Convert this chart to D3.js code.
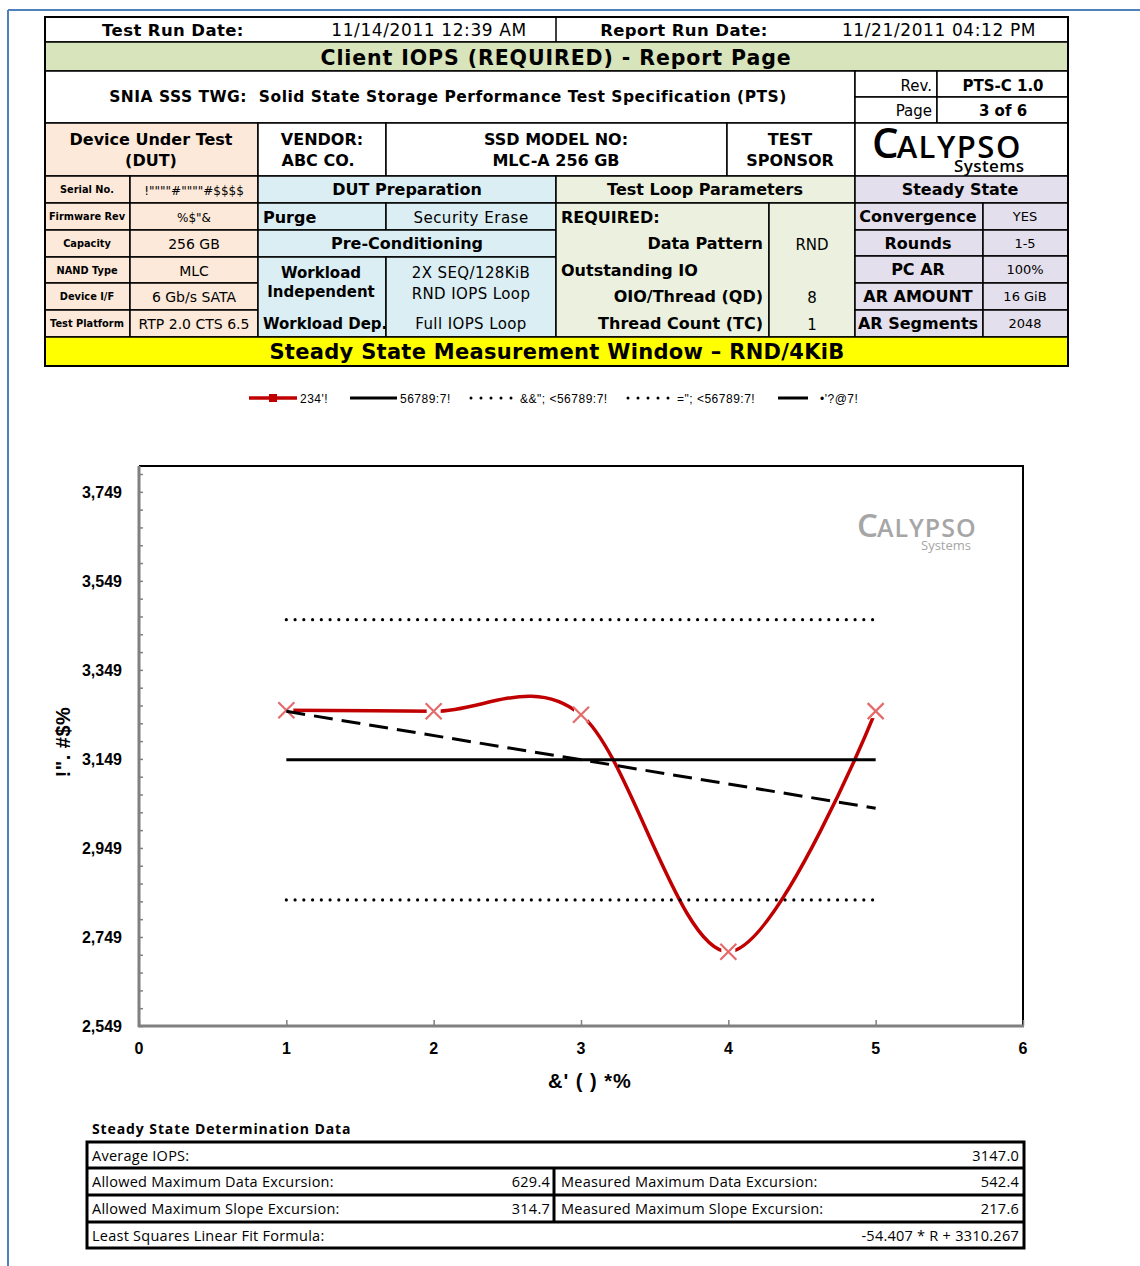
<!DOCTYPE html>
<html>
<head>
<meta charset="utf-8">
<script src="https://cdn.jsdelivr.net/npm/d3@7.9.0/dist/d3.min.js"></script>
<style>
  body { margin: 0; background: #fff; }
  svg { display: block; font-family: "DejaVu Sans", Verdana, sans-serif; }
</style>
</head>
<body>
<svg id="page" width="1140" height="1266"></svg>
<script>
// ---- data ----
const rounds = [1, 2, 3, 4, 5];
const iops = [3258.4, 3256.0, 3248.2, 2716.0, 3256.4];
const avgIops = 3147.0;
const fitSlope = -54.407, fitIntercept = 3310.267;
const xTicks = [0, 1, 2, 3, 4, 5, 6];
const yTicks = [2549, 2749, 2949, 3149, 3349, 3549, 3749];
const legendLabels = ["234'!", "56789:7!", "&&\"; <56789:7!", "=\"; <56789:7!", "•'?@7!"];

const dutLabels = ["Serial No.", "Firmware Rev", "Capacity", "NAND Type", "Device I/F", "Test Platform"];
const dutValues = ['!""""#""""#$$$$', '%$"&', "256 GB", "MLC", "6 Gb/s SATA", "RTP 2.0 CTS 6.5"];
const ssLabels = ["Convergence", "Rounds", "PC AR", "AR AMOUNT", "AR Segments"];
const ssValues = ["YES", "1-5", "100%", "16 GiB", "2048"];
const ssdRows = [
  ["Average IOPS:", "3147.0"],
  ["Allowed Maximum Data Excursion:", "629.4", "Measured Maximum Data Excursion:", "542.4"],
  ["Allowed Maximum Slope Excursion:", "314.7", "Measured Maximum Slope Excursion:", "217.6"],
  ["Least Squares Linear Fit Formula:", "-54.407 * R + 3310.267"]
];

const svg = d3.select("#page");

// page frame (blue)
svg.append("line").attr("x1", 8).attr("x2", 1140).attr("y1", 10).attr("y2", 10).attr("stroke", "#4f81bd").attr("stroke-width", 2);
svg.append("line").attr("x1", 8).attr("x2", 8).attr("y1", 10).attr("y2", 1266).attr("stroke", "#4f81bd").attr("stroke-width", 2);

// helpers
const hdr = svg.append("g");
function rect(x, y, w, h, fill) {
  hdr.append("rect").attr("x", x).attr("y", y).attr("width", w).attr("height", h)
    .attr("fill", fill || "#fff").attr("stroke", "#000").attr("stroke-width", 1.5);
}
function txt(x, y, s, size, weight, anchor, g) {
  return (g || hdr).append("text").attr("x", x).attr("y", y).text(s)
    .attr("font-size", size).attr("font-weight", weight || "normal")
    .attr("text-anchor", anchor || "middle");
}

// ---- header table ----
const L = 45, R = 1068;
rect(L, 17, R - L, 25, "#fff");
hdr.append("line").attr("x1", 556).attr("x2", 556).attr("y1", 17).attr("y2", 42).attr("stroke", "#000").attr("stroke-width", 1.5);
txt(173, 36, "Test Run Date:", 16.5, "bold").attr("letter-spacing", 0.4);
txt(429, 36, "11/14/2011 12:39 AM", 17).attr("letter-spacing", 0.6);
txt(684, 36, "Report Run Date:", 16.5, "bold").attr("letter-spacing", 0.4);
txt(939, 36, "11/21/2011 04:12 PM", 17).attr("letter-spacing", 0.6);

rect(L, 42, R - L, 29, "#d8e4bc");
txt(556, 65, "Client IOPS (REQUIRED) - Report Page", 20.5, "bold").attr("letter-spacing", 0.9);

rect(L, 71, 855 - L, 52, "#fff");
txt(448, 102, "SNIA SSS TWG:  Solid State Storage Performance Test Specification (PTS)", 15.5, "bold")
  .attr("xml:space", "preserve").attr("letter-spacing", 0.5);
rect(855, 71, 82, 26); rect(937, 71, 131, 26);
rect(855, 97, 82, 26); rect(937, 97, 131, 26);
txt(932, 91, "Rev.", 15, "normal", "end");
txt(1003, 91, "PTS-C 1.0", 15, "bold");
txt(932, 116, "Page", 15, "normal", "end");
txt(1003, 116, "3 of 6", 15, "bold");

rect(L, 123, 258 - L, 53, "#fde9d9");
txt(151, 145, "Device Under Test", 16, "bold");
txt(151, 166, "(DUT)", 16, "bold");
rect(258, 123, 128, 53);
txt(322, 145, "VENDOR:", 16, "bold");
txt(318, 166, "ABC CO.", 16, "bold");
rect(386, 123, 341, 53);
txt(556, 145, "SSD MODEL NO:", 16, "bold");
txt(556, 166, "MLC-A 256 GB", 16, "bold");
rect(727, 123, 128, 53);
txt(790, 145, "TEST", 16, "bold");
txt(790, 166, "SPONSOR", 16, "bold");
rect(855, 123, R - 855, 53);
// logo (one text element: big C, ALYPSO, and "Systems" underneath)
hdr.append("rect").attr("x", 880).attr("y", 160).attr("width", 160).attr("height", 18).attr("fill", "#fff");
const logo = hdr.append("text").attr("font-family", "'Open Sans', sans-serif").attr("font-weight", 600);
logo.append("tspan").attr("x", 872).attr("y", 158).text("C").attr("font-size", 42);
logo.append("tspan").text("ALYPSO").attr("font-size", 31).attr("dx", -2).attr("letter-spacing", 1.5);
logo.append("tspan").attr("x", 954).attr("y", 172).text("Systems").attr("font-size", 17).attr("letter-spacing", 0.4);

// DUT rows
const rowY = [176, 203, 230, 257, 283, 310, 337];
dutLabels.forEach((lab, i) => {
  const y0 = rowY[i], h = rowY[i + 1] - rowY[i];
  rect(L, y0, 85, h, "#fde9d9");
  rect(130, y0, 128, h, "#fde9d9");
  txt(87, y0 + 17, lab, 9.8, "bold");
  txt(194, y0 + 19, dutValues[i], i < 2 ? 12 : 14);
});

// DUT preparation (blue)
const blue = "#daeef3";
rect(258, 176, 298, 27, blue);
txt(407, 195, "DUT Preparation", 16, "bold");
rect(258, 203, 128, 27, blue); rect(386, 203, 170, 27, blue);
txt(263, 223, "Purge", 16, "bold", "start");
txt(471, 223, "Security Erase", 15).attr("letter-spacing", 0.5);
rect(258, 230, 298, 27, blue);
txt(407, 249, "Pre-Conditioning", 16, "bold");
rect(258, 257, 128, 80, blue); rect(386, 257, 170, 80, blue);
txt(321, 278, "Workload", 15, "bold");
txt(321, 297, "Independent", 15, "bold");
txt(471, 278, "2X SEQ/128KiB", 15).attr("letter-spacing", 0.4);
txt(471, 299, "RND IOPS Loop", 15).attr("letter-spacing", 0.4);
txt(263, 329, "Workload Dep.", 15, "bold", "start");
txt(471, 329, "Full IOPS Loop", 15).attr("letter-spacing", 0.4);

// Test loop parameters (green)
const green = "#ebf1de";
rect(556, 176, 299, 27, green);
txt(705, 195, "Test Loop Parameters", 16, "bold");
rect(556, 203, 213, 134, green); rect(769, 203, 86, 134, green);
txt(561, 223, "REQUIRED:", 16, "bold", "start");
txt(763, 249, "Data Pattern", 16, "bold", "end");
txt(812, 250, "RND", 15);
txt(561, 276, "Outstanding IO", 16, "bold", "start");
txt(763, 302, "OIO/Thread (QD)", 16, "bold", "end");
txt(812, 303, "8", 15);
txt(763, 329, "Thread Count (TC)", 16, "bold", "end");
txt(812, 330, "1", 15);

// Steady state (purple)
const purple = "#e4dfec";
rect(855, 176, 213, 27, purple);
txt(960, 195, "Steady State", 16, "bold");
const ssY = [203, 230, 256, 283, 310, 337];
ssLabels.forEach((lab, i) => {
  const y0 = ssY[i], h = ssY[i + 1] - ssY[i];
  rect(855, y0, 128, h, purple); rect(983, y0, 85, h, purple);
  txt(918, y0 + 19, lab, 16, "bold");
  txt(1025, y0 + 18, ssValues[i], 13);
});

rect(L, 337, R - L, 29, "#ffff00");
txt(557, 359, "Steady State Measurement Window \u2013 RND/4KiB", 21, "bold").attr("letter-spacing", 0.3);
hdr.append("rect").attr("x", L).attr("y", 17).attr("width", R - L).attr("height", 349)
  .attr("fill", "none").attr("stroke", "#000").attr("stroke-width", 2);

// ---- chart ----
const x = d3.scaleLinear().domain([0, 6]).range([139, 1023]);
const y = d3.scaleLinear().domain([2549, 3807]).range([1026, 466]);
const chart = svg.append("g").attr("font-family", "'Liberation Sans', Arial, sans-serif");

// watermark logo
const wmt = chart.append("text").attr("font-family", "'Open Sans', sans-serif").attr("fill", "#a6a6a6").attr("font-weight", 600);
wmt.append("tspan").attr("x", 857).attr("y", 537).text("C").attr("font-size", 33);
wmt.append("tspan").text("ALYPSO").attr("font-size", 25).attr("dx", -1).attr("letter-spacing", 1);
wmt.append("tspan").attr("x", 921).attr("y", 550).text("Systems").attr("font-size", 13).attr("font-weight", 400);

// frame
chart.append("line").attr("x1", 139).attr("x2", 1024).attr("y1", 466).attr("y2", 466).attr("stroke", "#000").attr("stroke-width", 2);
chart.append("line").attr("x1", 1023).attr("x2", 1023).attr("y1", 466).attr("y2", 1026).attr("stroke", "#000").attr("stroke-width", 2);

// y axis
const yMinor = d3.range(2549, 3807, 40);
const yAxisG = chart.append("g").attr("transform", "translate(139,0)");
yAxisG.call(d3.axisRight(y).tickValues(yMinor).tickSize(4).tickFormat(""));
yAxisG.selectAll("line").attr("stroke", "#808080").attr("stroke-width", 1.5);
yAxisG.select(".domain").remove();
yTicks.forEach(v => {
  chart.append("text").attr("x", 122).attr("y", y(v) + 6).attr("text-anchor", "end")
    .attr("font-size", 16).attr("font-weight", "bold").text(d3.format(",")(v));
});
chart.append("line").attr("x1", 139).attr("x2", 139).attr("y1", 466).attr("y2", 1027).attr("stroke", "#808080").attr("stroke-width", 3);

// x axis
const xAxisG = chart.append("g").attr("transform", "translate(0,1026)");
xAxisG.call(d3.axisTop(x).tickValues(xTicks).tickSize(6).tickFormat(""));
xAxisG.selectAll("line").attr("stroke", "#808080").attr("stroke-width", 1.5);
xAxisG.select(".domain").remove();
xTicks.forEach(v => {
  chart.append("text").attr("x", x(v)).attr("y", 1054).attr("text-anchor", "middle")
    .attr("font-size", 16).attr("font-weight", "bold").text(v);
});
chart.append("line").attr("x1", 138).attr("x2", 1024).attr("y1", 1026).attr("y2", 1026).attr("stroke", "#808080").attr("stroke-width", 3);

// axis titles
chart.append("text").attr("transform", "translate(70,742) rotate(-90)").attr("text-anchor", "middle")
  .attr("font-size", 20).attr("font-weight", "bold").attr("letter-spacing", 0.5).text('!". #$%');
chart.append("text").attr("x", 590).attr("y", 1088).attr("text-anchor", "middle")
  .attr("font-size", 20).attr("font-weight", "bold").attr("letter-spacing", 1).text("&' ( ) *%");

// series: IOPS (smoothed)
const pts = rounds.map((r, i) => [r, iops[i]]);
const line = d3.line().x(d => x(d[0])).y(d => y(d[1])).curve(d3.curveCatmullRom.alpha(0));
chart.append("path").attr("d", line(pts)).attr("fill", "none").attr("stroke", "#c00000").attr("stroke-width", 3.5);
const mk = chart.append("g");
pts.forEach(p => {
  const cx = x(p[0]), cy = y(p[1]);
  mk.append("rect").attr("x", cx - 7).attr("y", cy - 7).attr("width", 14).attr("height", 14).attr("fill", "#fff");
  mk.append("path").attr("d", `M${cx - 8},${cy - 8}L${cx + 8},${cy + 8}M${cx - 8},${cy + 8}L${cx + 8},${cy - 8}`)
    .attr("stroke", "#e36b6b").attr("stroke-width", 2.2);
});

// average, +/-10%, linear fit
const avgPts = [[1, avgIops], [5, avgIops]];
const straight = d3.line().x(d => x(d[0])).y(d => y(d[1]));
chart.append("path").attr("d", straight(avgPts)).attr("stroke", "#000").attr("stroke-width", 3).attr("fill", "none");
[1.1, 0.9].forEach(f => {
  chart.append("path").attr("d", straight([[1, avgIops * f], [5, avgIops * f]]))
    .attr("stroke", "#000").attr("stroke-width", 3.2).attr("stroke-linecap", "round")
    .attr("stroke-dasharray", "0 8.75").attr("fill", "none");
});
const fitPts = [1, 5].map(r => [r, fitSlope * r + fitIntercept]);
chart.append("path").attr("d", straight(fitPts)).attr("stroke", "#000").attr("stroke-width", 3)
  .attr("stroke-dasharray", "19 9").attr("fill", "none");

// legend
const lg = chart.append("g").attr("transform", "translate(0,398)");
const lgText = (xx, s) => lg.append("text").attr("x", xx).attr("y", 4.5).attr("font-size", 12)
  .attr("letter-spacing", 0.5).text(s);
lg.append("line").attr("x1", 249).attr("x2", 297).attr("stroke", "#c00000").attr("stroke-width", 3.5);
lg.append("rect").attr("x", 269).attr("y", -4).attr("width", 8).attr("height", 8).attr("fill", "#c00000");
lgText(300, legendLabels[0]);
lg.append("line").attr("x1", 350).attr("x2", 397).attr("stroke", "#000").attr("stroke-width", 3);
lgText(400, legendLabels[1]);
[471, 628].forEach(x0 => {
  lg.append("line").attr("x1", x0).attr("x2", x0 + 42).attr("stroke", "#000").attr("stroke-width", 3)
    .attr("stroke-linecap", "round").attr("stroke-dasharray", "0 10");
});
lgText(520, legendLabels[2]);
lgText(677, legendLabels[3]);
lg.append("line").attr("x1", 778).attr("x2", 808).attr("stroke", "#000").attr("stroke-width", 3);
lgText(820, legendLabels[4]);

// ---- steady state determination data table ----
const tb = svg.append("g").attr("font-family", "'Open Sans', sans-serif");
tb.append("text").attr("x", 92).attr("y", 1134).attr("font-size", 14).attr("font-weight", "bold")
  .attr("letter-spacing", 0.9).text("Steady State Determination Data");
const tRows = [1142, 1168, 1195, 1222, 1248];
tb.append("rect").attr("x", 87).attr("y", 1142).attr("width", 937).attr("height", 106)
  .attr("fill", "none").attr("stroke", "#000").attr("stroke-width", 3);
tRows.slice(1, 4).forEach(yy => tb.append("line").attr("x1", 87).attr("x2", 1024).attr("y1", yy).attr("y2", yy)
  .attr("stroke", "#000").attr("stroke-width", 3));
tb.append("line").attr("x1", 554).attr("x2", 554).attr("y1", 1168).attr("y2", 1222).attr("stroke", "#000").attr("stroke-width", 3);
ssdRows.forEach((r, i) => {
  const by = tRows[i] + 19;
  const t = (xx, s, a) => tb.append("text").attr("x", xx).attr("y", by).attr("font-size", 14.5)
    .attr("letter-spacing", 0.25).attr("text-anchor", a).text(s);
  t(92, r[0], "start");
  if (r.length === 2) {
    t(1019, r[1], "end");
  } else {
    t(550, r[1], "end");
    t(561, r[2], "start");
    t(1019, r[3], "end");
  }
});
</script>
</body>
</html>
